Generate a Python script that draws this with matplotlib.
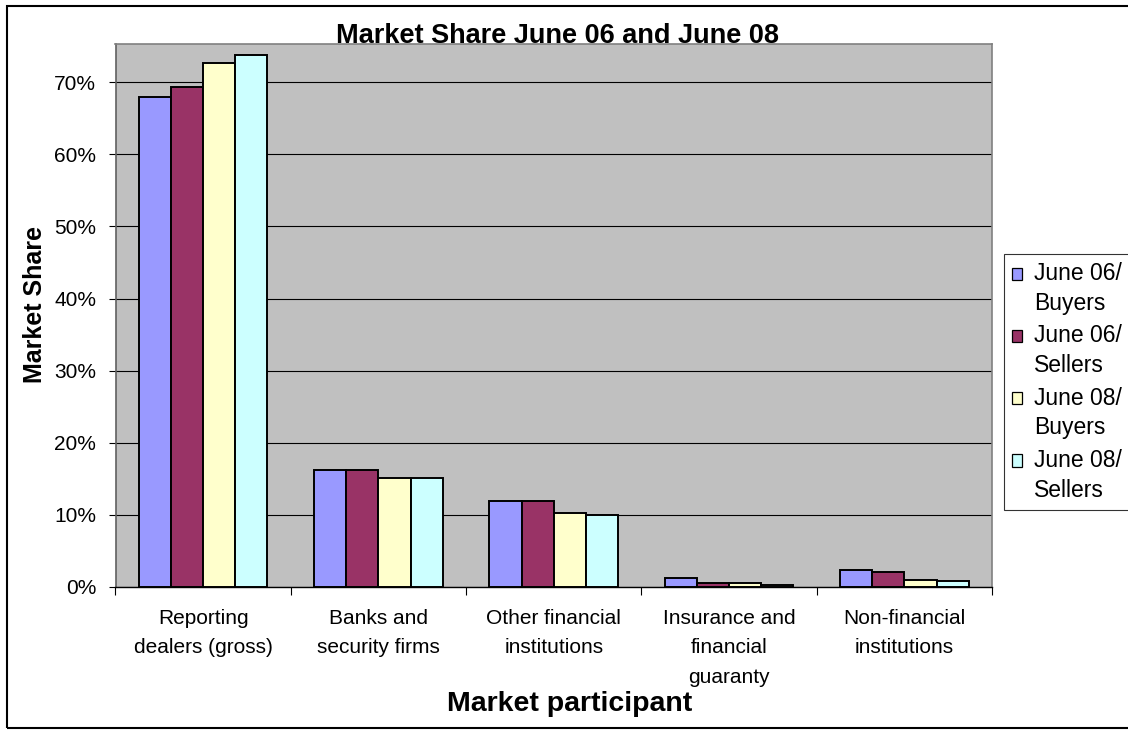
import numpy as np
import matplotlib
matplotlib.use("Agg")
import matplotlib.pyplot as plt
from matplotlib.patches import Rectangle
from matplotlib.legend_handler import HandlerPatch
from matplotlib.ticker import FuncFormatter, FixedLocator

plt.rcParams['font.family'] = ['Liberation Sans', 'DejaVu Sans']

categories = ["Reporting\ndealers (gross)", "Banks and\nsecurity firms",
              "Other financial\ninstitutions", "Insurance and\nfinancial\nguaranty",
              "Non-financial\ninstitutions"]
series_names = ["June 06/\nBuyers", "June 06/\nSellers", "June 08/\nBuyers", "June 08/\nSellers"]
june06_buyers = [0.679, 0.162, 0.119, 0.013, 0.024]
june06_sellers = [0.694, 0.162, 0.119, 0.005, 0.021]
june08_buyers = [0.727, 0.151, 0.103, 0.005, 0.010]
june08_sellers = [0.738, 0.151, 0.100, 0.003, 0.008]
series_values = [june06_buyers, june06_sellers, june08_buyers, june08_sellers]
colors = ["#9999FF", "#993366", "#FFFFCC", "#CCFFFF"]
yticks = [0.0, 0.1, 0.2, 0.3, 0.4, 0.5, 0.6, 0.7]

W, H = 1128, 730
fig = plt.figure(figsize=(W / 100, H / 100), dpi=100)
fig.patch.set_facecolor("white")

ax = fig.add_axes([115.5 / W, 1 - 587 / H, (992 - 115.5) / W, (587 - 44) / H])
ax.set_facecolor("#C0C0C0")

x = np.arange(len(categories))
bw = 0.1835
handles = []
for i, (vals, col, name) in enumerate(zip(series_values, colors, series_names)):
    b = ax.bar(x + (i - 1.5) * bw, vals, width=bw, color=col, edgecolor="black",
               linewidth=1.4, label=name, zorder=3)
    handles.append(b)

ax.set_xlim(-0.5, len(categories) - 0.5)
ax.set_ylim(0, 0.753)
ax.yaxis.set_major_locator(FixedLocator(yticks))
ax.yaxis.set_major_formatter(FuncFormatter(lambda v, p: f"{v*100:.0f}%"))
ax.grid(axis="y", color="black", linewidth=0.8, zorder=1)
ax.set_axisbelow(True)

ax.set_xticks(np.arange(-0.5, len(categories), 1.0))
ax.set_xticklabels([])
ax.set_xticks(x, minor=True)
ax.set_xticklabels(categories, minor=True, fontsize=15, linespacing=1.68)
ax.tick_params(axis="x", which="major", direction="out", length=6, width=0.8, color="black")
ax.tick_params(axis="x", which="minor", length=0, pad=16)
ax.tick_params(axis="y", direction="out", length=5, width=0.8, pad=9, labelsize=15)

for s in ["top", "right"]:
    ax.spines[s].set_color("#808080")
    ax.spines[s].set_linewidth(1.2)
ax.spines["left"].set_color("#606060")
ax.spines["left"].set_linewidth(1.2)
ax.spines["bottom"].set_color("black")
ax.spines["bottom"].set_linewidth(1.0)

# Titles
fig.text(557 / W, 1 - 43 / H, "Market Share June 06 and June 08", ha="center", va="baseline",
         fontsize=19.5, fontweight="bold")
fig.text(570 / W, 1 - 711 / H, "Market participant", ha="center", va="baseline",
         fontsize=20.5, fontweight="bold")
fig.text(35 / W, 1 - 304 / H, "Market Share", ha="center", va="center", rotation=90,
         fontsize=18, fontweight="bold")


class TopPatchHandler(HandlerPatch):
    def create_artists(self, legend, orig_handle, xdescent, ydescent, width, height, fontsize, trans):
        shift = fontsize * 0.68
        p = Rectangle((-xdescent, -ydescent + shift), width, height)
        self.update_prop(p, orig_handle, legend)
        p.set_facecolor(orig_handle.get_facecolor())
        p.set_edgecolor("black")
        p.set_linewidth(0.9)
        p.set_transform(trans)
        return [p]


leg = fig.legend([h.patches[0] for h in handles], series_names,
                 loc="upper left", bbox_to_anchor=(1004 / W, 1 - 254 / H),
                 bbox_transform=fig.transFigure, fontsize=16.5, frameon=True, fancybox=False,
                 shadow=False, handlelength=0.44, handleheight=0.44, handletextpad=0.52,
                 labelspacing=0.42, borderpad=0.35, borderaxespad=0,
                 handler_map={matplotlib.patches.Rectangle: TopPatchHandler()})
leg.get_frame().set_edgecolor("black")
leg.get_frame().set_linewidth(0.8)
for t in leg.get_texts():
    t.set_linespacing(1.37)

# Chart area border
border = Rectangle((7 / W, 2 / H), 1.2, 1 - 8 / H, transform=fig.transFigure,
                   fill=False, edgecolor="black", linewidth=1.5, clip_on=False)
fig.patches.append(border)

fig.savefig("out.png", dpi=100)
